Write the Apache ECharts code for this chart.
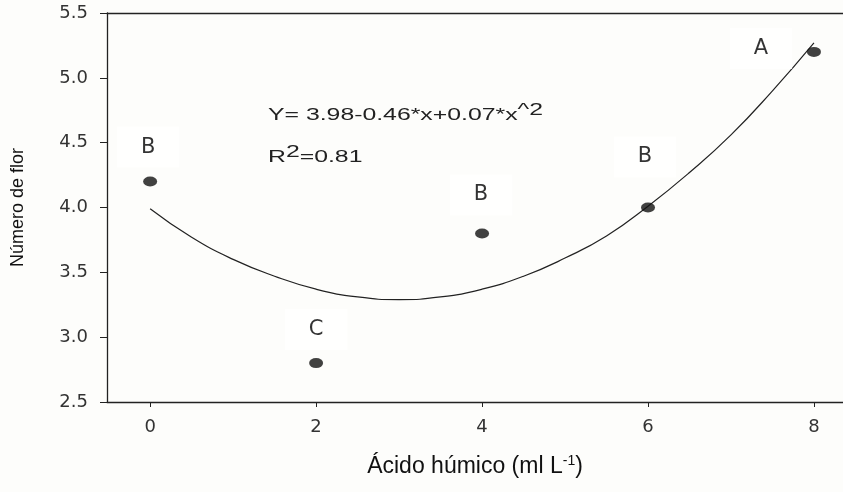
<!DOCTYPE html>
<html>
<head>
<meta charset="utf-8">
<script src="https://cdn.jsdelivr.net/npm/echarts@6/dist/echarts.min.js"></script>
<style>
  html, body { margin: 0; padding: 0; background: #fdfdfb; }
  #chart { width: 843px; height: 492px; }
</style>
</head>
<body>
<div id="chart"></div>
<script>
// pontos observados
var doses = [0, 2, 4, 6, 8];
var flores = [4.2, 2.8, 3.8, 4.0, 5.2];
var letras = ['B', 'C', 'B', 'B', 'A'];

// curva ajustada
var curvaX = [0, 0.5, 1, 1.5, 2, 2.5, 3, 3.5, 4, 4.5, 5, 5.5, 6, 6.5, 7, 7.5, 8];
var curvaY = [3.99, 3.77, 3.60, 3.47, 3.37, 3.31, 3.29, 3.31, 3.37, 3.47, 3.61, 3.78, 4.01, 4.27, 4.56, 4.90, 5.27];

var xTicks = [0, 2, 4, 6, 8];

// deslocamento das letras em pixels
var letraOffset = [[-2, 11], [0, 12], [-1, 7], [-3, -5], [-53, 42]];

var pontos = [];
for (var i = 0; i < doses.length; ++i) {
	pontos.push({
		value: [doses[i], flores[i]],
		label: {
			formatter: letras[i],
			offset: letraOffset[i]
		}
	});
}

var curva = [];
for (var i = 0; i < curvaX.length; ++i) {
	curva.push([curvaX[i], curvaY[i]]);
}

var chart = echarts.init(document.getElementById('chart'));

var axisColor = '#222';
var tickFont = 'DejaVu Sans';
var option = {
	backgroundColor: '#fdfdfb',
	animation: false,
	grid: { left: 107, top: 13, right: 0, bottom: 90 },
	xAxis: [{
		type: 'value',
		min: -0.52,
		max: 8.35,
		name: 'Ácido húmico (ml L{sup|-1})',
		nameLocation: 'middle',
		nameGap: 52,
		nameTextStyle: {
			fontFamily: 'Liberation Sans',
			fontSize: 23,
			color: '#111',
			rich: {
				sup: { fontFamily: 'Liberation Sans', fontSize: 14, verticalAlign: 'top', color: '#111', padding: [0, 0, 12, 0] }
			}
		},
		splitLine: { show: false },
		axisLine: { onZero: false, lineStyle: { color: axisColor, width: 1.3 } },
		axisTick: { customValues: xTicks, length: 5, lineStyle: { color: axisColor } },
		axisLabel: {
			customValues: xTicks,
			margin: 16,
			fontFamily: tickFont,
			fontSize: 18,
			color: '#333'
		}
	}, {
		type: 'value',
		position: 'top',
		min: -0.52,
		max: 8.35,
		axisLine: { show: true, onZero: false, lineStyle: { color: axisColor, width: 1.3 } },
		axisTick: { show: false },
		axisLabel: { show: false },
		splitLine: { show: false }
	}],
	yAxis: {
		type: 'value',
		min: 2.5,
		max: 5.5,
		interval: 0.5,
		name: 'Número de flor',
		nameLocation: 'middle',
		nameGap: 80,
		nameTextStyle: {
			fontFamily: 'Liberation Sans',
			fontSize: 18,
			color: '#111'
		},
		splitLine: { show: false },
		axisLine: { show: true, onZero: false, lineStyle: { color: axisColor, width: 1.3 } },
		axisTick: { show: true, length: 7, lineStyle: { color: axisColor } },
		axisLabel: {
			margin: 19,
			fontFamily: tickFont,
			fontSize: 18,
			color: '#333',
			formatter: function (v) { return v.toFixed(1); }
		}
	},
	series: [{
		type: 'line',
		data: curva,
		smooth: true,
		showSymbol: false,
		lineStyle: { color: '#222', width: 1.2 },
		z: 2
	}, {
		type: 'scatter',
		data: pontos,
		symbol: 'circle',
		symbolSize: [14, 10],
		itemStyle: { color: '#111' },
		label: {
			show: true,
			position: 'top',
			distance: 20,
			fontFamily: 'DejaVu Sans',
			fontSize: 21,
			color: '#000',
			backgroundColor: '#ffffff',
			padding: [10, 24, 10, 24]
		},
		z: 3
	}],
	graphic: [{
		type: 'text',
		x: 268,
		y: 103,
		scaleX: 1.55,
		style: {
			text: 'Y= 3.98-0.46*x+0.07*x{sup|^2}',
			font: '16px Liberation Sans',
			fill: '#222',
			verticalAlign: 'top',
			rich: {
				sup: { font: '16px Liberation Sans', fill: '#222', padding: [0, 0, 10, 0] }
			}
		}
	}, {
		type: 'text',
		x: 268,
		y: 145,
		scaleX: 1.55,
		style: {
			text: 'R{sup|2}=0.81',
			font: '16px Liberation Sans',
			fill: '#222',
			verticalAlign: 'top',
			rich: {
				sup: { font: '16px Liberation Sans', fill: '#222', padding: [0, 0, 10, 0] }
			}
		}
	}]
};

chart.setOption(option);
</script>
</body>
</html>
